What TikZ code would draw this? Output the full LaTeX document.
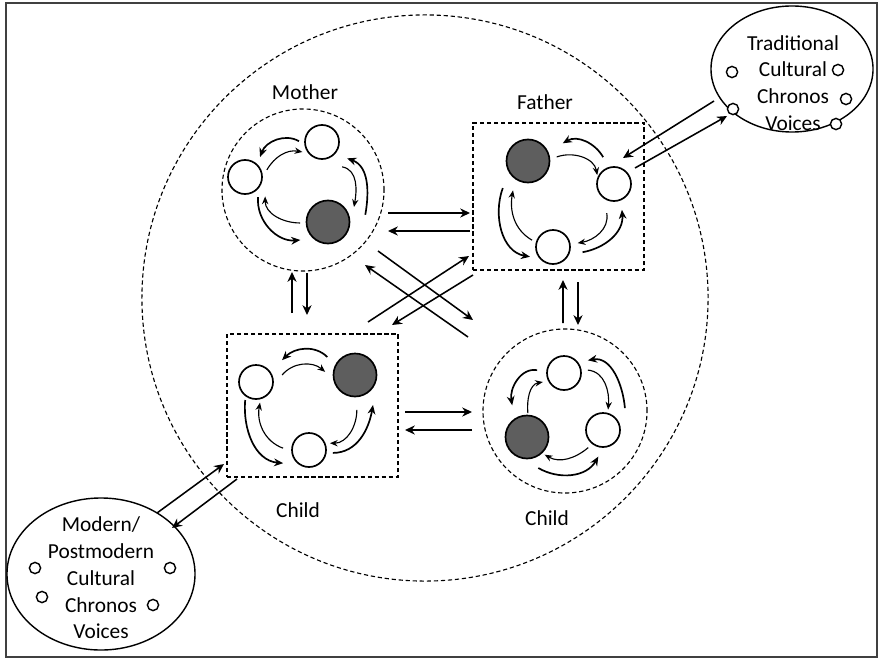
\documentclass[tikz,border=0pt]{standalone}
\usepackage{fontspec}
\setmainfont{Carlito}
\usetikzlibrary{arrows.meta,shapes.geometric}
\definecolor{darkfill}{HTML}{5E5E5E}

\begin{document}
\begin{tikzpicture}[
  x=0.025cm, y=0.025cm,
  font=\fontsize{15.2}{19}\selectfont,
  member/.style={circle, draw=black, line width=1.2pt, fill=white, inner sep=0pt, minimum size=0.85cm},
  self/.style={member, fill=darkfill, minimum size=1.075cm},
  voice/.style={circle, draw=black, line width=1pt, fill=white, inner sep=0pt, minimum size=0.28cm},
  ring/.style={draw, line width=0.8pt, dash pattern=on 3pt off 2pt},
  link/.style={line width=1.1pt, -{Stealth[length=7pt,width=6.5pt]}},
  outarc/.style={line width=1.2pt, -{Stealth[length=6.5pt,width=5.5pt]}},
  inarc/.style={line width=0.8pt, -{Stealth[length=5.5pt,width=4.5pt]}}
]
  \useasboundingbox (0,0) rectangle (878,660);
  \draw[black!75, line width=1.5pt] (6,3) rectangle (877,657);

  % === family circle ===
  \node[ring, circle, minimum size=14.15cm] (family) at (425,362) {};

  % === Mother ===
  \node[ring, circle, minimum size=4.05cm] (mother) at (303,470) {};
  \node (motherlbl) at (305,568) {Mother};
  \node[member] (mo1) at (322,518) {};
  \node[member] (mo2) at (245,483) {};
  \node[self] (mo3) at (328,438) {};
  \draw[outarc] ([shift={(178:23)}]mo1.center) to[out=150,in=70] ([shift={(53:25)}]mo2.center);
  \draw[inarc] ([shift={(18:23)}]mo2.center) to[out=60,in=170] ([shift={(207:22)}]mo1.center);
  \draw[outarc] ([shift={(303:24)}]mo2.center) to[out=265,in=185] ([shift={(213:33)}]mo3.center);
  \draw[inarc] ([shift={(182:28)}]mo3.center) to[out=180,in=-90] ([shift={(316:28)}]mo2.center);
  \draw[outarc] ([shift={(11:38)}]mo3.center) to[out=80,in=-20] ([shift={(327:30)}]mo1.center);
  \draw[inarc] ([shift={(309:32)}]mo1.center) to[out=-10,in=80] ([shift={(30:30)}]mo3.center);

  % === Father ===
  \node[ring, minimum width=4.275cm, minimum height=3.675cm] (father) at (558.5,463.5) {};
  \node (fatherlbl) at (545,558) {Father};
  \node[self] (fa1) at (528,499) {};
  \node[member] (fa2) at (614,476) {};
  \node[member] (fa3) at (553,413) {};
  \draw[outarc] ([shift={(112:29)}]fa2.center) to[out=120,in=30] ([shift={(27:39)}]fa1.center);
  \draw[inarc] ([shift={(8:29)}]fa1.center) to[out=20,in=100] ([shift={(152:19)}]fa2.center);
  \draw[outarc] ([shift={(350:30)}]fa3.center) to[out=10,in=-85] ([shift={(287:27)}]fa2.center);
  \draw[inarc] ([shift={(256:30)}]fa2.center) to[out=-80,in=10] ([shift={(9:25)}]fa3.center);
  \draw[outarc] ([shift={(227:37)}]fa1.center) to[out=250,in=170] ([shift={(203:25)}]fa3.center);
  \draw[inarc] ([shift={(162:22)}]fa3.center) to[out=150,in=-100] ([shift={(243:33)}]fa1.center);

  % === Child (box) ===
  \node[ring, minimum width=4.275cm, minimum height=3.575cm] (childL) at (312.5,254.5) {};
  \node (childLlbl) at (298,150) {Child};
  \node[member] (ch1) at (256,278) {};
  \node[self] (ch2) at (355,285) {};
  \node[member] (ch3) at (309,210) {};
  \draw[outarc] ([shift={(147:33)}]ch2.center) to[out=135,in=45] ([shift={(40:34)}]ch1.center);
  \draw[inarc] ([shift={(15:27)}]ch1.center) to[out=50,in=140] ([shift={(174:30)}]ch2.center);
  \draw[inarc] ([shift={(273:35)}]ch2.center) to[out=-90,in=0] ([shift={(18:22)}]ch3.center);
  \draw[outarc] ([shift={(353:24)}]ch3.center) to[out=0,in=-100] ([shift={(301:35)}]ch2.center);
  \draw[outarc] ([shift={(239:21)}]ch1.center) to[out=265,in=175] ([shift={(207:29)}]ch3.center);
  \draw[inarc] ([shift={(176:26)}]ch3.center) to[out=160,in=-100] ([shift={(281:21)}]ch1.center);

  % === Child (circle) ===
  \node[ring, circle, minimum size=4.1cm] (childR) at (565,249) {};
  \node (childRlbl) at (547,142) {Child};
  \node[member] (cr1) at (564,287) {};
  \node[member] (cr2) at (603,230) {};
  \node[self] (cr3) at (527,223) {};
  \draw[outarc] ([shift={(45:31)}]cr2.center) to[out=95,in=10] ([shift={(28:27)}]cr1.center);
  \draw[inarc] ([shift={(7:24)}]cr1.center) to[out=-5,in=85] ([shift={(76:21)}]cr2.center);
  \draw[outarc] ([shift={(290:33)}]cr3.center) to[out=-30,in=240] ([shift={(260:27)}]cr2.center);
  \draw[inarc] ([shift={(230:23)}]cr2.center) to[out=220,in=-30] ([shift={(315:25)}]cr3.center);
  \draw[outarc] ([shift={(174:27)}]cr1.center) to[out=170,in=100] ([shift={(115:35)}]cr3.center);
  \draw[inarc] ([shift={(88:24)}]cr3.center) to[out=95,in=190] ([shift={(203:23)}]cr1.center);

  % === Traditional voices ===
  \node[draw, ellipse, line width=1pt, minimum width=4.05cm, minimum height=3.15cm] (trad) at (792,591) {};
  \node[align=center, inner sep=0pt] (tradtxt) at (793,577) {Traditional\\Cultural\\Chronos\\Voices};
  \node[voice] (tv1) at (732,588) {};
  \node[voice] (tv2) at (838,590) {};
  \node[voice] (tv3) at (733,551) {};
  \node[voice] (tv4) at (846,561) {};
  \node[voice] (tv5) at (836,536) {};

  % === Modern/Postmodern voices ===
  \node[draw, ellipse, line width=1pt, minimum width=4.7cm, minimum height=3.8cm] (modern) at (101,86) {};
  \node[align=center, inner sep=0pt] (modtxt) at (101,82) {Modern/\\Postmodern\\Cultural\\Chronos\\Voices};
  \node[voice] (mv1) at (35,92) {};
  \node[voice] (mv2) at (170,92) {};
  \node[voice] (mv3) at (42,63) {};
  \node[voice] (mv4) at (153,55) {};

  % === links between members ===
  \draw[link] ([shift={(85,-23)}]mother.center) -- ([shift={(-88.5,-16.5)}]father.center);
  \draw[link] ([shift={(-88.5,-34.5)}]father.center) -- ([shift={(85,-41)}]mother.center);
  \draw[link] ([shift={(55.5,83.5)}]childL.center) -- ([shift={(-89.5,-59.5)}]father.center);
  \draw[link] ([shift={(-85.5,-78.5)}]father.center) -- ([shift={(79.5,80.5)}]childL.center);
  \draw[link] ([shift={(75,-61)}]mother.center) -- ([shift={(-92,91)}]childR.center);
  \draw[link] ([shift={(-97,74)}]childR.center) -- ([shift={(62,-75)}]mother.center);
  \draw[link] ([shift={(-20.5,92.5)}]childL.center) -- ([shift={(-11,-82)}]mother.center);
  \draw[link] ([shift={(4,-83)}]mother.center) -- ([shift={(-5.5,90.5)}]childL.center);
  \draw[link] ([shift={(-2,88)}]childR.center) -- ([shift={(4.5,-83.5)}]father.center);
  \draw[link] ([shift={(19.5,-85.5)}]father.center) -- ([shift={(13,86)}]childR.center);
  \draw[link] ([shift={(92.5,-6.5)}]childL.center) -- ([shift={(-93,-1)}]childR.center);
  \draw[link] ([shift={(-93,-19)}]childR.center) -- ([shift={(92.5,-24.5)}]childL.center);

  % === links to the cultural voices ===
  \draw[link] ([shift={(-78,-32)}]trad.center) -- ([shift={(64.5,38.5)}]father.center);
  \draw[link] ([shift={(76.5,28.5)}]father.center) -- ([shift={(-65,-47)}]trad.center);
  \draw[link] ([shift={(56,61)}]modern.center) -- ([shift={(-88.5,-58.5)}]childL.center);
  \draw[link] ([shift={(-75.5,-73.5)}]childL.center) -- ([shift={(71,46)}]modern.center);
\end{tikzpicture}
\end{document}
